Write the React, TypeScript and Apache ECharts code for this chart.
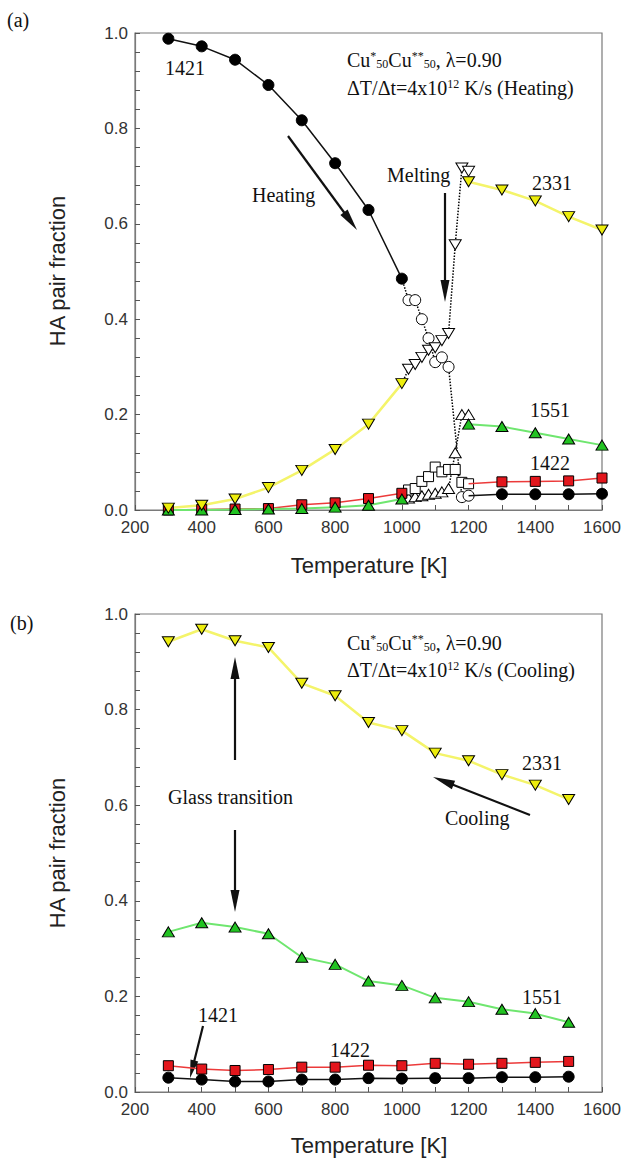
import React, { useEffect, useRef } from "react";
import * as echarts from "echarts";

// ---------- data: panel (a) heating ----------
const tempsLow = [300, 400, 500, 600, 700, 800, 900, 1000];
const tempsHigh = [1200, 1300, 1400, 1500, 1600];
const tempsAfter = [1300, 1400, 1500, 1600];

const heat1421Low = [0.988, 0.972, 0.944, 0.891, 0.817, 0.727, 0.629, 0.485];
const heat1421After = [0.033, 0.033, 0.033, 0.034];
const heat2331Low = [0.004, 0.01, 0.023, 0.047, 0.083, 0.127, 0.18, 0.265];
const heat2331High = [0.688, 0.671, 0.648, 0.615, 0.587];
const heat1551Low = [0.0, 0.0, 0.001, 0.002, 0.003, 0.006, 0.01, 0.023];
const heat1551High = [0.18, 0.175, 0.162, 0.149, 0.136];
const heat1422Low = [0.0, 0.001, 0.002, 0.003, 0.011, 0.015, 0.024, 0.035];
const heat1422After = [0.059, 0.06, 0.061, 0.067];

// melting region (open symbols, dotted)
const meltTemps = [1020, 1040, 1060, 1080, 1100, 1120, 1140, 1160, 1180, 1200];
const melt1421 = [0.44, 0.44, 0.4, 0.36, 0.31, 0.32, 0.3, null, 0.027, 0.03];
const melt2331 = [0.295, 0.305, 0.32, 0.335, 0.34, 0.355, 0.37, 0.556, 0.717, 0.71];
const melt1551 = [0.025, 0.028, 0.03, 0.033, 0.035, 0.038, 0.045, 0.12, 0.2, 0.2];
const melt1422 = [0.042, 0.045, 0.06, 0.07, 0.09, 0.08, 0.085, 0.085, 0.058, 0.055];

// ---------- data: panel (b) cooling ----------
const tempsCool = [300, 400, 500, 600, 700, 800, 900, 1000, 1100, 1200, 1300, 1400, 1500];
const cool2331 = [0.942, 0.968, 0.944, 0.93, 0.855, 0.829, 0.773, 0.756, 0.709, 0.693, 0.664, 0.642, 0.612];
const cool1551 = [0.335, 0.354, 0.345, 0.331, 0.282, 0.267, 0.232, 0.223, 0.197, 0.189, 0.173, 0.164, 0.146];
const cool1422 = [0.055, 0.048, 0.045, 0.047, 0.052, 0.052, 0.056, 0.055, 0.06, 0.058, 0.06, 0.062, 0.064];
const cool1421 = [0.03, 0.026, 0.022, 0.022, 0.026, 0.026, 0.029, 0.028, 0.029, 0.029, 0.031, 0.031, 0.032];

// ticks
const xTicks = { min: 200, max: 1600, interval: 200 };
const yTicks = { min: 0, max: 1, interval: 0.2 };

const SANS = '"Liberation Sans", Arial, Helvetica, sans-serif';
const SERIF = '"Liberation Serif", "Times New Roman", serif';

const pairs = (xs: number[], ys: (number | null)[]) =>
  xs.map((x, i) => [x, ys[i]]).filter((p) => p[1] !== null && p[1] !== undefined);

const YELLOW = "#eded0c";
const YELLOW_LINE = "#f4f46a";
const GREEN = "#22c322";
const GREEN_LINE = "#6fe66f";
const RED = "#e3161c";
const RED_LINE = "#ec3a3a";

const symDown = { symbol: "triangle", symbolRotate: 180, symbolSize: [12, 10] };
const symUp = { symbol: "triangle", symbolSize: [12, 10] };
const symSq = { symbol: "rect", symbolSize: 10 };
const symCirc = { symbol: "circle", symbolSize: 11 };

function filled(
  grid: number,
  data: any[],
  sym: any,
  fill: string,
  lineColor: string,
  lineWidth: number,
  z = 3
) {
  return {
    type: "line",
    xAxisIndex: grid,
    yAxisIndex: grid,
    data,
    ...sym,
    showSymbol: true,
    z,
    itemStyle: { color: fill, borderColor: "#000", borderWidth: 1 },
    lineStyle: { color: lineColor, width: lineWidth },
    emphasis: { disabled: true },
  };
}

function hollow(data: any[], sym: any) {
  return {
    type: "line",
    xAxisIndex: 0,
    yAxisIndex: 0,
    data,
    ...sym,
    z: 2,
    itemStyle: { color: "#fff", borderColor: "#000", borderWidth: 1 },
    lineStyle: { color: "#000", width: 1.5, type: "dotted" },
    emphasis: { disabled: true },
  };
}

function arrow(x1: number, y1: number, x2: number, y2: number, headLen = 22, headW = 9) {
  const dx = x2 - x1;
  const dy = y2 - y1;
  const len = Math.sqrt(dx * dx + dy * dy);
  const ux = dx / len;
  const uy = dy / len;
  const bx = x2 - ux * headLen;
  const by = y2 - uy * headLen;
  const px = -uy * (headW / 2);
  const py = ux * (headW / 2);
  return {
    type: "group",
    children: [
      {
        type: "line",
        shape: { x1, y1, x2: bx + ux * 4, y2: by + uy * 4 },
        style: { stroke: "#111", lineWidth: 2.2 },
      },
      {
        type: "polygon",
        shape: {
          points: [
            [x2, y2],
            [bx + px, by + py],
            [bx - px, by - py],
          ],
        },
        style: { fill: "#111" },
      },
    ],
  };
}

function serifText(text: string, x: number, y: number, size = 20, rich?: any) {
  return {
    type: "text",
    x,
    y,
    style: {
      text,
      fontSize: size,
      fontFamily: SERIF,
      fill: "#111",
      verticalAlign: "middle",
      align: "left",
      rich,
    },
  };
}

const richSup = {
  sup: { fontSize: 12, fontFamily: SERIF, fill: "#111", verticalAlign: "top", lineHeight: 12 },
  sub: { fontSize: 12, fontFamily: SERIF, fill: "#111", verticalAlign: "bottom", lineHeight: 12 },
};

function axisSet(grid: number) {
  const common = {
    gridIndex: grid,
    type: "value",
    axisLine: { show: true, lineStyle: { color: "#7a7a7a", width: 1.2 } },
    axisTick: { show: true, inside: true, length: 5, lineStyle: { color: "#555" } },
    minorTick: { show: true, length: 5, lineStyle: { color: "#555" } },
    splitLine: { show: false },
    minorSplitLine: { show: false },
  };
  return {
    x: {
      ...common,
      ...xTicks,
      minorTick: { ...common.minorTick, splitNumber: 2 },
      axisLabel: {
        fontSize: 17,
        fontFamily: SANS,
        color: "#333",
        margin: 9,
        formatter: (v: number) => String(v),
      },
    },
    y: {
      ...common,
      ...yTicks,
      minorTick: { ...common.minorTick, splitNumber: 5 },
      axisLabel: {
        fontSize: 17,
        fontFamily: SANS,
        color: "#333",
        margin: 7,
        formatter: (v: number) => v.toFixed(1),
      },
    },
  };
}

export default function App() {
  const ref = useRef<HTMLDivElement>(null);
  useEffect(() => {
    if (!ref.current) return;
    const chart = echarts.init(ref.current, null, { renderer: "svg" });
    const a0 = axisSet(0);
    const a1 = axisSet(1);

    const last1421 = melt1421[melt1421.length - 1];
    const last1422 = melt1422[melt1422.length - 1];

    const series: any[] = [
      // panel (a) open symbols during melting
      hollow([{ value: [1000, heat1551Low[7]], symbol: "none" }, ...pairs(meltTemps, melt1551)], symUp),
      hollow([{ value: [1000, heat1422Low[7]], symbol: "none" }, ...pairs(meltTemps, melt1422)], symSq),
      hollow([{ value: [1000, heat1421Low[7]], symbol: "none" }, ...pairs(meltTemps, melt1421)], symCirc),
      hollow([{ value: [1000, heat2331Low[7]], symbol: "none" }, ...pairs(meltTemps, melt2331)], symDown),
      // panel (a) filled
      filled(0, pairs(tempsLow, heat1422Low), symSq, RED, RED_LINE, 1.5),
      filled(
        0,
        [{ value: [1200, last1422], symbol: "none" }, ...pairs(tempsAfter, heat1422After)],
        symSq,
        RED,
        RED_LINE,
        1.5
      ),
      filled(0, pairs(tempsLow, heat1551Low), symUp, GREEN, GREEN_LINE, 2),
      filled(0, pairs(tempsHigh, heat1551High), symUp, GREEN, GREEN_LINE, 2),
      filled(0, pairs(tempsLow, heat1421Low), symCirc, "#000", "#111", 1.5),
      filled(
        0,
        [{ value: [1200, last1421], symbol: "none" }, ...pairs(tempsAfter, heat1421After)],
        symCirc,
        "#000",
        "#111",
        1.5
      ),
      filled(0, pairs(tempsLow, heat2331Low), symDown, YELLOW, YELLOW_LINE, 2.5),
      filled(0, pairs(tempsHigh, heat2331High), symDown, YELLOW, YELLOW_LINE, 2.5),
      // panel (b)
      filled(1, pairs(tempsCool, cool1421), symCirc, "#000", "#111", 1.5),
      filled(1, pairs(tempsCool, cool1422), symSq, RED, RED_LINE, 1.5),
      filled(1, pairs(tempsCool, cool1551), symUp, GREEN, GREEN_LINE, 2),
      filled(1, pairs(tempsCool, cool2331), symDown, YELLOW, YELLOW_LINE, 2.5),
    ];

    const cuLine = "Cu{sup|*}{sub|50}Cu{sup|**}{sub|50}, λ=0.90";

    const graphics: any[] = [
      // panel labels
      serifText("(a)", 7, 20, 20),
      serifText("(b)", 10, 623, 20),
      // axis titles
      {
        type: "text",
        x: 57,
        y: 271,
        rotation: Math.PI / 2,
        style: {
          text: "HA pair fraction",
          fontSize: 22,
          fontFamily: SANS,
          fill: "#222",
          align: "center",
          verticalAlign: "middle",
        },
      },
      {
        type: "text",
        x: 57,
        y: 853,
        rotation: Math.PI / 2,
        style: {
          text: "HA pair fraction",
          fontSize: 22,
          fontFamily: SANS,
          fill: "#222",
          align: "center",
          verticalAlign: "middle",
        },
      },
      {
        type: "text",
        x: 369,
        y: 565,
        style: {
          text: "Temperature [K]",
          fontSize: 22,
          fontFamily: SANS,
          fill: "#222",
          align: "center",
          verticalAlign: "middle",
        },
      },
      {
        type: "text",
        x: 369,
        y: 1145,
        style: {
          text: "Temperature [K]",
          fontSize: 22,
          fontFamily: SANS,
          fill: "#222",
          align: "center",
          verticalAlign: "middle",
        },
      },
      // panel (a) annotations
      serifText(cuLine, 347, 60, 20, richSup),
      serifText("ΔT/Δt=4x10{sup|12} K/s (Heating)", 347, 88, 20, richSup),
      serifText("1421", 165, 68),
      serifText("Heating", 252, 195),
      serifText("Melting", 387, 175),
      serifText("2331", 532, 183),
      serifText("1551", 530, 410),
      serifText("1422", 530, 463),
      arrow(288, 136, 357, 230),
      arrow(445, 193, 445, 302),
      // panel (b) annotations
      serifText(cuLine, 347, 643, 20, richSup),
      serifText("ΔT/Δt=4x10{sup|12} K/s (Cooling)", 347, 670, 20, richSup),
      serifText("2331", 522, 763),
      serifText("Cooling", 445, 818),
      serifText("Glass transition", 168, 797),
      serifText("1551", 522, 997),
      serifText("1422", 330, 1050),
      serifText("1421", 198, 1015),
      arrow(235, 760, 235, 657),
      arrow(235, 830, 235, 912),
      arrow(530, 815, 433, 777),
      arrow(203, 1026, 190, 1078, 18, 8),
    ];

    chart.setOption({
      animation: false,
      backgroundColor: "#fff",
      grid: [
        { left: 135, top: 33, width: 467, height: 477, show: true, borderColor: "#7a7a7a", borderWidth: 1.2 },
        { left: 135, top: 614, width: 467, height: 478, show: true, borderColor: "#7a7a7a", borderWidth: 1.2 },
      ],
      xAxis: [a0.x, a1.x],
      yAxis: [a0.y, a1.y],
      series,
      graphic: graphics,
    });
    return () => chart.dispose();
  }, []);
  return (
    <div
      ref={ref}
      style={{ position: "absolute", left: 0, top: 0, width: 636, height: 1161, background: "#fff" }}
    />
  );
}
